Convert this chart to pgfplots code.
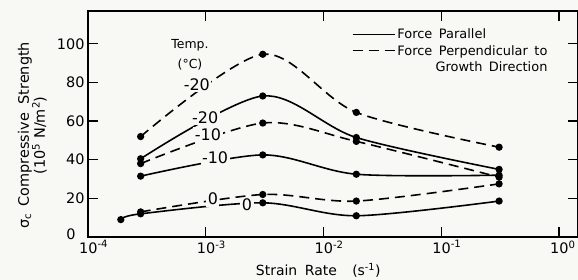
\documentclass[border=0pt]{standalone}
\usepackage{fontspec}
\setmainfont{DejaVu Sans}
\usepackage{pgfplots}
\pgfplotsset{compat=1.18}
\usetikzlibrary{backgrounds}
\definecolor{bg}{RGB}{248,248,245}
\begin{document}
\begin{tikzpicture}
\begin{axis}[
  scale only axis, width=490bp, height=226bp,
  xmode=log, xmin=1e-4, xmax=1.45, ymin=0, ymax=117,
  xtick={1e-4,1e-3,1e-2,1e-1,1},
  xticklabels={10\textsuperscript{-4},10\textsuperscript{-3},10\textsuperscript{-2},10\textsuperscript{-1},10\textsuperscript{0}},
  xticklabel style={anchor=north west, inner xsep=0pt, xshift=-9bp},
  ytick={0,20,40,60,80,100},
  yticklabels={\raisebox{6bp}{\makebox[0pt][r]{0\hspace{9bp}}},20,40,60,80,100},
  tick align=inside, major tick length=10bp,
  minor tick style={draw=none},
  tick style={line width=1.3pt, black},
  axis line style={line width=1.6pt},
  ticklabel style={font=\fontsize{14.5}{15}\selectfont},
  xlabel={Strain\hspace{0.55em}Rate\hspace{1.1em}(s\textsuperscript{-1})},
  xlabel style={at={(axis description cs:0.47,-0.1)}, anchor=north, font=\fontsize{14}{15}\selectfont},
  ylabel={σ\textsubscript{c}\hspace{0.5em}Compressive\hspace{0.6em}Strength\\(10\textsuperscript{5} N/m\textsuperscript{2})},
  ylabel style={at={(axis description cs:-0.077,0.45)}, anchor=south, align=center, font=\fontsize{14.5}{16}\selectfont},
  legend style={draw=none, fill=none, at={(rel axis cs:0.538,0.93)}, anchor=north west,
     font=\fontsize{13}{16}\selectfont, inner sep=0pt, row sep=0pt, cells={anchor=west}},
  legend image code/.code={\draw[#1, line width=1.6pt] (0bp,0bp) -- (42bp,0bp);},
]
\addlegendimage{solid}
\addlegendentry{Force\hspace{0.5em}Parallel}
\addlegendimage{dash pattern=on 10bp off 6bp}
\addlegendentry{\begin{tabular}[t]{@{}r@{}}Force\hspace{0.5em}Perpendicular\hspace{0.5em}to\\Growth\hspace{0.5em}Direction\end{tabular}}

\pgfplotsset{every axis plot/.append style={smooth, tension=0.5, line width=1.6pt, black, mark=*, mark size=2.8pt, mark options={solid}}}
% perpendicular -20
\addplot[forget plot, dash pattern=on 10bp off 6bp] coordinates {(2.8e-4,52) (3.05e-3,94.6) (1.9e-2,64.5) (0.31,46.5)};
% parallel -20
\addplot[forget plot] coordinates {(2.8e-4,40.5) (3.05e-3,73) (1.9e-2,51.5) (0.31,35)};
% perpendicular -10
\addplot[forget plot, dash pattern=on 10bp off 6bp] coordinates {(2.8e-4,38) (3.05e-3,59) (1.9e-2,49.5) (0.31,31)};
% parallel -10
\addplot[forget plot] coordinates {(2.8e-4,31.5) (3.05e-3,42.5) (1.9e-2,32.5) (0.31,32)};
% perpendicular 0
\addplot[forget plot, dash pattern=on 10bp off 6bp] coordinates {(2.8e-4,13) (3.05e-3,22) (1.9e-2,18.6) (0.31,27.5)};
% parallel 0
\addplot[forget plot] coordinates {(1.9e-4,9) (2.8e-4,12) (3.05e-3,17.7) (1.9e-2,11) (0.31,18.6)};

\begin{scope}[every node/.style={font=\fontsize{16}{17}\selectfont, fill=bg, inner sep=1.5pt}]
\node[fill=none, font=\fontsize{12.5}{13}\selectfont] at (axis cs:7.35e-4,99.2) {Temp.};
\node[fill=none, font=\fontsize{12.5}{13}\selectfont] at (axis cs:7.35e-4,89.4) {(°C)};
\node at (axis cs:8.4e-4,79) {-20};
\node at (axis cs:9.9e-4,62) {-20};
\node at (axis cs:1.045e-3,53.2) {-10};
\node at (axis cs:1.2e-3,41.3) {-10};
\node at (axis cs:1.15e-3,19.6) {0};
\node at (axis cs:2.24e-3,16.5) {0};
\end{scope}
\coordinate (sw) at (rel axis cs:0,0);
\coordinate (ne) at (rel axis cs:1,1);
\end{axis}
\pgfresetboundingbox
\path[use as bounding box] ([shift={(-88bp,-43bp)}]sw) rectangle ([shift={(0bp,11bp)}]ne);
\begin{scope}[on background layer]
\fill[bg] ([shift={(-88bp,-43bp)}]sw) rectangle ([shift={(2bp,11bp)}]ne);
\end{scope}
\end{tikzpicture}
\end{document}
